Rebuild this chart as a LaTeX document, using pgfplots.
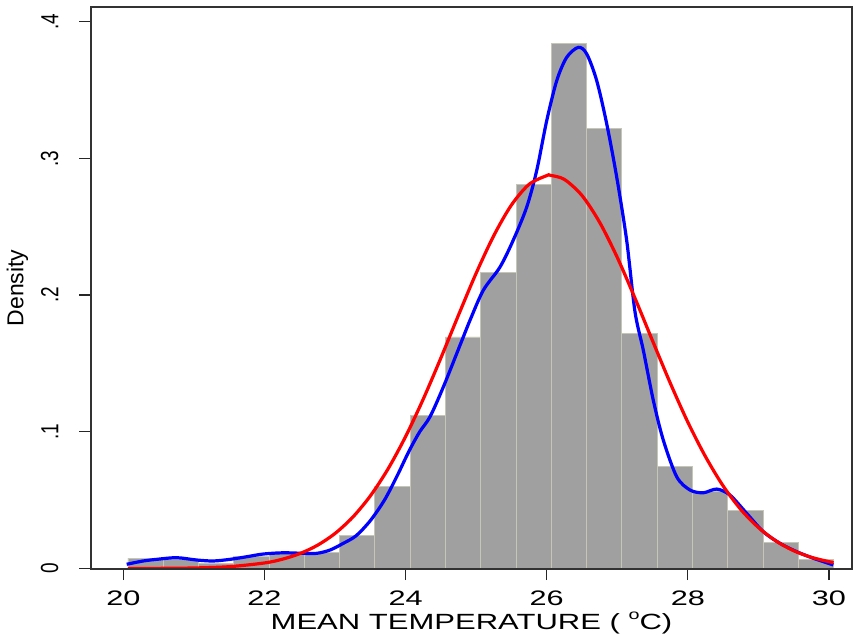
\documentclass[border=0pt]{standalone}
\usepackage{fontspec}
\setmainfont{Liberation Sans}
\usepackage{graphicx}
\usepackage{pgfplots}
\pgfplotsset{compat=1.18}

\definecolor{histfill}{RGB}{160,160,160}
\definecolor{histline}{RGB}{198,198,182}
\definecolor{framegray}{RGB}{50,50,50}

% Stata export is stretched sideways
\newcommand{\xt}[1]{\scalebox{1.46}[1]{#1}}
\newcommand{\yt}[1]{\scalebox{1}[1.3]{#1}}

\begin{document}
\begin{tikzpicture}
\path[use as bounding box] (-91pt,-66.5pt) rectangle (763pt,568.5pt);
\begin{axis}[
  at={(0pt,0pt)}, anchor=south west,
  scale only axis, width=761pt, height=561.2pt,
  xmin=19.542, xmax=30.326, ymin=0, ymax=0.4105,
  axis on top,
  axis line style={framegray, line width=2pt},
  tick align=outside, tick pos=left,
  major tick length=11.5pt,
  every tick/.style={black!85, line width=1.2pt},
  xtick={20,22,24,26,28,30},
  xticklabels={\xt{20},\xt{22},\xt{24},\xt{26},\xt{28},\xt{30}},
  xticklabel style={font=\fontsize{21}{21}\selectfont, inner sep=0pt},
  xticklabel shift=10.5pt,
  ytick={0,0.1,0.2,0.3,0.4},
  yticklabels={\yt{0},\yt{.1},\yt{.2},\yt{.3},\yt{.4}},
  yticklabel style={font=\fontsize{19}{19}\selectfont, rotate=90, anchor=south, inner sep=0pt},
  yticklabel shift=21pt,
  xlabel={\scalebox{1.41}[1]{MEAN TEMPERATURE ( \raisebox{0.42em}{\fontsize{14}{14}\selectfont o}C)}},
  xlabel style={font=\fontsize{22}{22}\selectfont, inner sep=0pt,
    at={(axis description cs:0.5,-0.1078)}, anchor=base},
  ylabel={Density},
  ylabel style={font=\fontsize{23}{23}\selectfont, inner sep=0pt,
    at={(axis description cs:-0.0887,0.5)}, rotate=0, anchor=base},
]

% histogram, 20 bins of width 0.5
\addplot[ybar interval, fill=histfill, draw=histline, line width=0.8pt] coordinates {
  (20.065,0.0075) (20.565,0.0070) (21.065,0.0038) (21.565,0.0086)
  (22.065,0.0110) (22.565,0.0118) (23.065,0.0240) (23.565,0.0598)
  (24.065,0.1119) (24.565,0.1694) (25.065,0.2164) (25.565,0.2807)
  (26.065,0.3841) (26.565,0.3216) (27.065,0.1718) (27.565,0.0744)
  (28.065,0.0561) (28.565,0.0422) (29.065,0.0191) (29.565,0.0067)
  (30.065,0.0067)
};

% kernel density
\addplot[blue, line width=3.2pt, smooth, tension=0.5] coordinates {
  (20.048,0.0031) (20.283,0.0055) (20.473,0.0067) (20.757,0.0079)
  (21.040,0.0062) (21.275,0.0055) (21.512,0.0067) (21.749,0.0086)
  (21.984,0.0106) (22.267,0.0115) (22.551,0.0111) (22.741,0.0111)
  (22.929,0.0135) (23.117,0.0184) (23.300,0.0240) (23.500,0.0350)
  (23.700,0.0500) (23.874,0.0671) (24.050,0.0860) (24.200,0.1000)
  (24.346,0.1110) (24.535,0.1328) (24.818,0.1694) (24.913,0.1816)
  (25.101,0.2035) (25.338,0.2205) (25.526,0.2402) (25.716,0.2643)
  (25.858,0.2911) (26.000,0.3276) (26.142,0.3569) (26.283,0.3739)
  (26.448,0.3812) (26.567,0.3764) (26.708,0.3569) (26.850,0.3253)
  (26.992,0.2862) (27.133,0.2400) (27.250,0.1880) (27.369,0.1596)
  (27.510,0.1231) (27.652,0.0939) (27.842,0.0671) (28.030,0.0574)
  (28.219,0.0554) (28.409,0.0581) (28.597,0.0537) (28.834,0.0403)
  (29.069,0.0269) (29.306,0.0184) (29.542,0.0123) (29.778,0.0075)
  (30.061,0.0026)
};

% normal density, mean 26.05, sd 1.387
\addplot[red, line width=3.2pt, smooth] coordinates {
  (20.065,0.00003) (20.5,0.00010) (21,0.00038) (21.5,0.00132)
  (22,0.00405) (22.25,0.00674) (22.5,0.01088) (22.75,0.01697)
  (23,0.02563) (23.25,0.03748) (23.5,0.05307) (23.75,0.07273)
  (24,0.09650) (24.25,0.1239) (24.5,0.1540) (24.75,0.1854)
  (25,0.2160) (25.25,0.2435) (25.5,0.2659) (25.75,0.2810)
  (26,0.2874) (26.05,0.2876) (26.25,0.2846) (26.5,0.2728)
  (26.75,0.2532) (27,0.2275) (27.25,0.1978) (27.5,0.1665)
  (27.75,0.1357) (28,0.1070) (28.25,0.0818) (28.5,0.0604)
  (28.75,0.0432) (29,0.0300) (29.25,0.0201) (29.5,0.0130)
  (29.75,0.00819) (30,0.00499) (30.065,0.00430)
};
\end{axis}
\end{tikzpicture}
\end{document}
